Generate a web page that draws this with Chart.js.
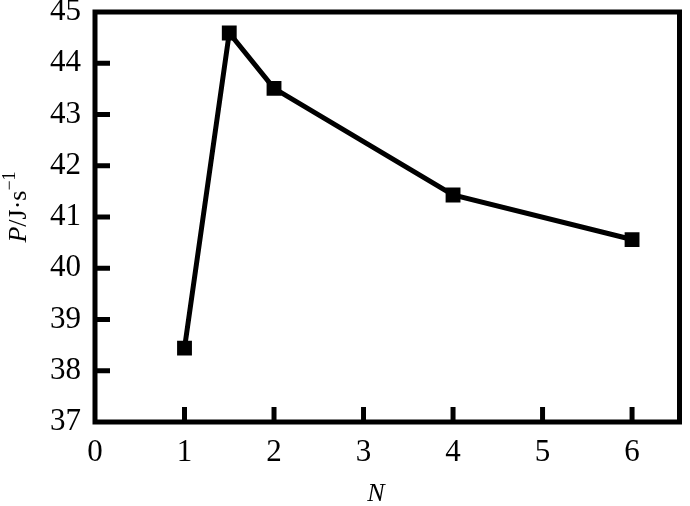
<!DOCTYPE html>
<html>
<head>
<meta charset="utf-8">
<script src="https://cdn.jsdelivr.net/npm/chart.js@4/dist/chart.umd.min.js"></script>
<style>
  html, body { margin: 0; padding: 0; background: #fff; }
  #wrap { width: 690px; height: 506px; }
</style>
</head>
<body>
<div id="wrap"><canvas id="chart" width="690" height="506"></canvas></div>
<script>
// Data
const nValues = [1, 1.5, 2, 4, 6];
const pValues = [38.44, 44.59, 43.51, 41.43, 40.56];
const xTicks = [0, 1, 2, 3, 4, 5, 6];
const yTicks = [37, 38, 39, 40, 41, 42, 43, 44, 45];

const FONT = '"Liberation Serif", "Times New Roman", serif';

// Box around the plot, inward ticks, and the axis titles
const framePlugin = {
  id: 'frame',
  afterDraw(chart) {
    const { ctx, chartArea: a, scales } = chart;
    ctx.save();
    ctx.strokeStyle = '#000';
    ctx.lineWidth = 5;
    ctx.lineJoin = 'miter';
    ctx.strokeRect(a.left, a.top, a.right - a.left, a.bottom - a.top);

    // inward tick marks
    ctx.lineWidth = 5;
    xTicks.forEach(v => {
      if (v === 0) return;
      const px = scales.x.getPixelForValue(v);
      ctx.beginPath();
      ctx.moveTo(px, a.bottom);
      ctx.lineTo(px, a.bottom - 15);
      ctx.stroke();
    });
    yTicks.forEach(v => {
      if (v === 37 || v === 45) return;
      const py = scales.y.getPixelForValue(v);
      ctx.beginPath();
      ctx.moveTo(a.left, py);
      ctx.lineTo(a.left + 15, py);
      ctx.stroke();
    });

    // x title
    ctx.fillStyle = '#000';
    ctx.textBaseline = 'alphabetic';
    ctx.textAlign = 'center';
    ctx.font = 'italic 26px ' + FONT;
    ctx.fillText('N', 376, 501);

    // y title, rotated: P/J·s⁻¹
    ctx.translate(26, 207);
    ctx.rotate(-Math.PI / 2);
    ctx.textAlign = 'left';
    const parts = [
      { t: 'P', f: 'italic 26px ' + FONT, dy: 0 },
      { t: '/J·s', f: '26px ' + FONT, dy: 0 },
      { t: '\u22121', f: '18px ' + FONT, dy: -11 }
    ];
    let w = 0;
    parts.forEach(p => { ctx.font = p.f; w += ctx.measureText(p.t).width; });
    let x = -w / 2;
    parts.forEach(p => {
      ctx.font = p.f;
      ctx.fillText(p.t, x, p.dy);
      x += ctx.measureText(p.t).width;
    });
    ctx.restore();
  }
};

new Chart(document.getElementById('chart'), {
  type: 'scatter',
  data: {
    datasets: [{
      data: nValues.map((n, i) => ({ x: n, y: pValues[i] })),
      showLine: true,
      borderColor: '#000',
      borderWidth: 5,
      backgroundColor: '#000',
      pointStyle: 'rect',
      pointRadius: 10.5,
      pointHoverRadius: 10.5,
      pointBorderWidth: 0
    }]
  },
  options: {
    responsive: false,
    animation: false,
    events: [],
    layout: { padding: { left: 0, right: 7, top: 12, bottom: 0 } },
    plugins: {
      legend: { display: false },
      tooltip: { enabled: false }
    },
    scales: {
      x: {
        type: 'linear',
        min: 0,
        max: 6.53,
        afterBuildTicks: s => { s.ticks = xTicks.map(v => ({ value: v })); },
        afterFit: s => { s.height = 84; s.paddingLeft = 0; s.paddingRight = 0; },
        grid: { display: false, drawTicks: false },
        border: { display: false },
        ticks: {
          color: '#000',
          padding: 12,
          font: { family: FONT, size: 31 }
        }
      },
      y: {
        min: 37,
        max: 45,
        afterBuildTicks: s => { s.ticks = yTicks.map(v => ({ value: v })); },
        afterFit: s => { s.width = 95; s.paddingTop = 0; s.paddingBottom = 0; },
        grid: { display: false, drawTicks: false },
        border: { display: false },
        ticks: {
          color: '#000',
          padding: 14,
          font: { family: FONT, size: 31 }
        }
      }
    }
  },
  plugins: [framePlugin]
});
</script>
</body>
</html>
